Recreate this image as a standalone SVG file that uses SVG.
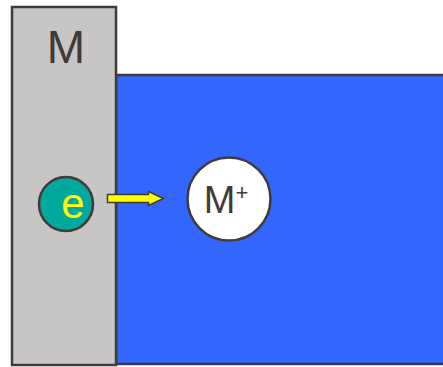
<svg xmlns="http://www.w3.org/2000/svg" width="443" height="367" viewBox="0 0 443 367">
<style>
.ln{stroke:#403a38;stroke-width:2.5}
.t{font-family:"Liberation Sans",Arial,sans-serif}
</style>
<rect width="443" height="367" fill="#fff"/>
<g id="solution"><rect class="ln" x="116" y="75" width="330" height="289" fill="#3366ff"/></g>
<g id="metal"><rect class="ln" x="12" y="7" width="104" height="358" fill="#c8c6c4"/>
<text class="t" x="66" y="63" font-size="46" fill="#403a38" text-anchor="middle">M</text></g>
<g id="electron"><circle class="ln" cx="66" cy="204" r="27" fill="#00a99d"/>
<text class="t" x="73" y="218" font-size="42" fill="#ffff00" text-anchor="middle">e</text></g>
<g id="ion"><circle class="ln" cx="229" cy="199" r="41.5" fill="#fff"/>
<text class="t" x="226" y="213" font-size="38" fill="#403a38" text-anchor="middle">M<tspan font-size="22" dy="-13">+</tspan></text></g>
<g id="connectors"><path d="M107.5 194.5H148.5V191.5L163.5 198.5L148.5 205.5V202.5H107.5Z" fill="#ffff00" stroke="#403a38" stroke-width="1.5" stroke-linejoin="miter"/></g>
</svg>
